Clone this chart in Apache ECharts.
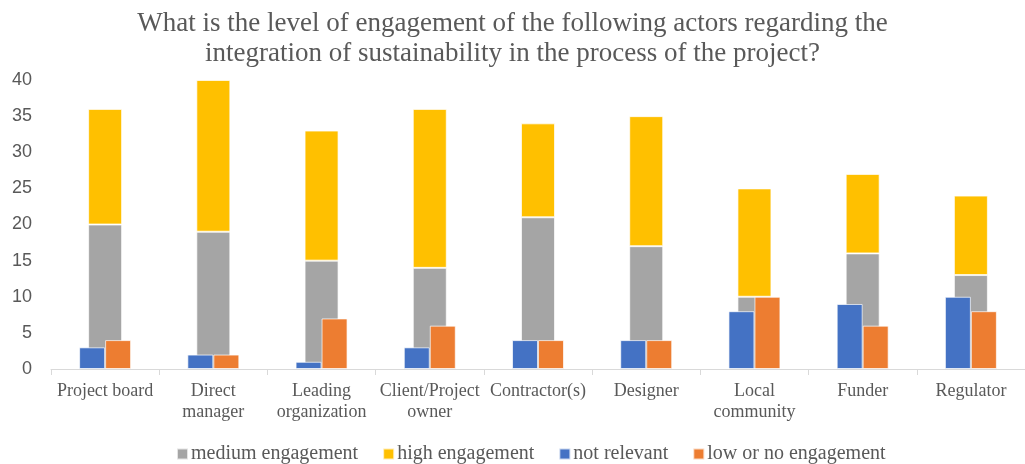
<!DOCTYPE html>
<html>
<head>
<meta charset="utf-8">
<script src="https://cdn.jsdelivr.net/npm/echarts@6/dist/echarts.min.js"></script>
<style>
  html, body { margin: 0; padding: 0; background: #fff; }
  #chart { width: 1025px; height: 464px; }
</style>
</head>
<body>
<div id="chart"></div>
<script>
// categories and values
const categories = ['Project board', 'Direct\nmanager', 'Leading\norganization', 'Client/Project\nowner',
  'Contractor(s)', 'Designer', 'Local\ncommunity', 'Funder', 'Regulator']
const medium = [20, 19, 15, 14, 21, 17, 10, 16, 13]
const high = [16, 21, 18, 22, 13, 18, 15, 11, 11]
const notRelevant = [3, 2, 1, 3, 4, 4, 8, 9, 10]
const lowOrNo = [4, 2, 7, 6, 4, 4, 10, 6, 8]
const yTicks = [0, 5, 10, 15, 20, 25, 30, 35, 40]

const chart = echarts.init(document.getElementById('chart'))

const serif = '"Liberation Serif", "Times New Roman", serif'
const edge = { borderColor: 'rgba(255,255,255,0.7)', borderWidth: 1 }

const option = {
  animation: false,
  title: {
    text: 'What is the level of engagement of the following actors regarding the\nintegration of sustainability in the process of the project?',
    left: 'center',
    top: 4,
    padding: [5, 5, 5, 25],
    textStyle: { fontFamily: serif, fontWeight: 'normal', fontSize: 27, color: '#595959', lineHeight: 30, align: 'center' }
  },
  legend: {
    top: 439,
    left: 171,
    itemWidth: 11,
    itemHeight: 11,
    itemGap: 24,
    icon: 'rect',
    textStyle: { fontFamily: serif, fontSize: 20, color: '#595959', padding: [0, 0, 0, -2] },
    data: ['medium engagement', 'high engagement', 'not relevant', 'low or no engagement']
  },
  grid: { left: 51, top: 80, width: 986, height: 289 },
  xAxis: [
    {
      type: 'category',
      data: categories,
      axisLine: { lineStyle: { color: '#d9d9d9' } },
      axisTick: { show: true, length: 6, lineStyle: { color: '#d9d9d9' } },
      axisLabel: { fontFamily: serif, fontSize: 18, color: '#595959', lineHeight: 21, margin: 12, interval: 0 }
    },
    {
      type: 'category',
      data: categories,
      show: false
    }
  ],
  yAxis: {
    type: 'value',
    min: 0,
    max: yTicks[yTicks.length - 1],
    interval: 5,
    splitLine: { show: false },
    axisLine: { show: false },
    axisTick: { show: false },
    axisLabel: { fontFamily: '"Liberation Sans", Arial, sans-serif', fontSize: 18, color: '#595959', margin: 19 }
  },
  series: [
    {
      name: 'medium engagement',
      type: 'bar',
      stack: 'eng',
      xAxisIndex: 0,
      barWidth: 34,
      data: medium,
      itemStyle: Object.assign({ color: '#a5a5a5' }, edge)
    },
    {
      name: 'high engagement',
      type: 'bar',
      stack: 'eng',
      xAxisIndex: 0,
      barWidth: 34,
      data: high,
      itemStyle: Object.assign({ color: '#ffc000' }, edge)
    },
    {
      name: 'not relevant',
      type: 'bar',
      xAxisIndex: 1,
      barWidth: 26,
      barGap: '0%',
      data: notRelevant,
      itemStyle: Object.assign({ color: '#4472c4' }, edge)
    },
    {
      name: 'low or no engagement',
      type: 'bar',
      xAxisIndex: 1,
      barWidth: 26,
      barGap: '0%',
      data: lowOrNo,
      itemStyle: Object.assign({ color: '#ed7d31' }, edge)
    }
  ]
}

chart.setOption(option)
</script>
</body>
</html>
